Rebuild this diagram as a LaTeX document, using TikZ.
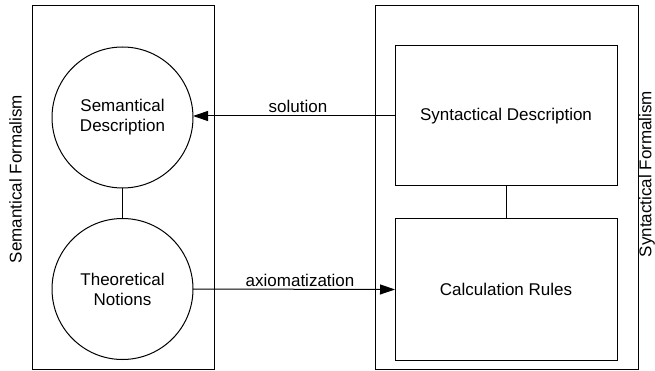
\documentclass[tikz,border=0pt]{standalone}
\usepackage{fontspec}
\setmainfont{Liberation Sans}
\usetikzlibrary{arrows.meta}

\tikzset{
  base/.style={line width=1pt, draw=black, outer sep=0pt, inner sep=0pt},
  frame/.style={base, rectangle},
  concept/.style={base, circle, minimum size=141pt, align=center},
  block/.style={base, rectangle, minimum width=222pt, align=center},
  link/.style={line width=1pt},
  flow/.style={line width=1pt, -{Triangle[length=15pt, width=10pt]}},
  tag/.style={inner sep=0pt, anchor=base},
  sidelabel/.style={inner sep=0pt, anchor=base, rotate=90}
}

\begin{document}
\begin{tikzpicture}[x=1pt, y=-1pt, font=\fontsize{17}{20}\selectfont]
  \useasboundingbox (0,0) rectangle (655,371);

  % containers
  \node[frame, minimum width=182pt, minimum height=363pt] (semframe) at (123,187.5) {};
  \node[frame, minimum width=263pt, minimum height=363pt] (synframe) at (506.5,187.5) {};

  % container titles
  \node[sidelabel] (semtitle) at (21.5,179) {Semantical Formalism};
  \node[sidelabel] (syntitle) at (651.3,174) {Syntactical Formalism};

  % semantic side
  \node[concept] (semdesc) at (122.5,117.5) {Semantical\\Description};
  \node[concept] (theory) at (122.5,289) {Theoretical\\Notions};

  % syntactic side
  \node[block, minimum height=140pt] (syndesc) at (506,116) {Syntactical Description};
  \node[block, minimum height=141pt] (rules) at (506,289.5) {Calculation Rules};

  % internal links
  \draw[link] (semdesc) -- (theory);
  \draw[link] (syndesc) -- (rules);

  % mappings between the formalisms
  \draw[flow] (syndesc.west) -- (syndesc.west -| semdesc.east)
    node[tag, pos=0.48, yshift=3pt] (sollabel) {solution};
  \draw[flow] (theory.east) -- (rules.west)
    node[tag, pos=0.53, yshift=3pt] (axlabel) {axiomatization};
\end{tikzpicture}
\end{document}
